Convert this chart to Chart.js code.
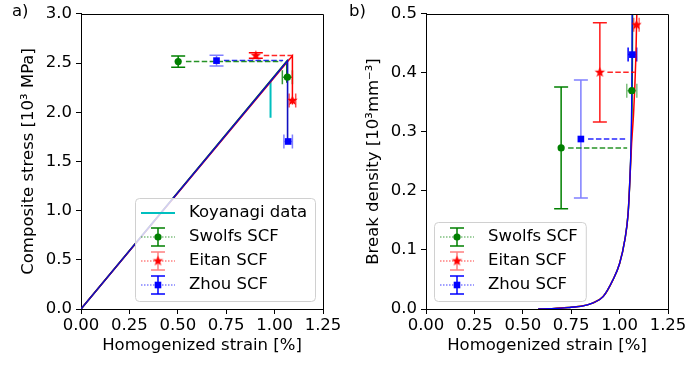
<!DOCTYPE html>
<html>
<head>
<meta charset="utf-8">
<script src="https://cdn.jsdelivr.net/npm/chart.js@4.4.0/dist/chart.umd.min.js"></script>
<style>
  body { margin: 0; background: #fff; }
  #wrap { position: relative; width: 689px; height: 368px; }
  canvas { position: absolute; top: 0; }
</style>
</head>
<body>
<div id="wrap">
  <canvas id="stress" width="345" height="368" style="left:0"></canvas>
  <canvas id="density" width="344" height="368" style="left:345px"></canvas>
</div>
<script>
// ---- a) composite stress vs homogenized strain ----
const koyanagiStrain = [0.979, 0.979];
const koyanagiStress = [2.316, 1.945];

const swolfsCurveStrain = [0, 1.063, 1.063];
const swolfsCurveStress = [0, 2.52, 2.30];
const eitanCurveStrain = [0, 1.092, 1.092];
const eitanCurveStress = [0, 2.575, 2.08];
const zhouCurveStrain = [0, 1.067, 1.067];
const zhouCurveStress = [0, 2.525, 1.70];

// measured points: first with stress scatter, second with strain scatter
const swolfsStrain = [0.502, 1.066];
const swolfsStress = [2.515, 2.357];
const swolfsStrainErr = [0, 0.026];
const swolfsStressErr = [0.058, 0];
const eitanStrain = [0.903, 1.092];
const eitanStress = [2.576, 2.12];
const eitanStrainErr = [0, 0.017];
const eitanStressErr = [0.028, 0];
const zhouStrain = [0.70, 1.07];
const zhouStress = [2.525, 1.703];
const zhouStrainErr = [0, 0.022];
const zhouStressErr = [0.055, 0];

// dashed guides from the scattered peak to the curve
const swolfsGuideStrain = [0.542, 1.035];
const eitanGuideStrain = [0.944, 1.095];
const zhouGuideStrain = [0.738, 1.044];

// ---- b) break density vs homogenized strain ----
const swolfsDensStrain = [0.58, 0.65, 0.70, 0.75, 0.80, 0.86, 0.915, 0.965, 1.0, 1.027, 1.044, 1.053, 1.06, 1.064, 1.066, 1.067];
const swolfsDensity = [0, 0.0006, 0.0015, 0.003, 0.0045, 0.010, 0.021, 0.049, 0.077, 0.117, 0.162, 0.218, 0.28, 0.34, 0.42, 0.52];
const eitanDensStrain = [0.58, 0.65, 0.70, 0.75, 0.80, 0.86, 0.915, 0.965, 1.0, 1.027, 1.044, 1.053, 1.062, 1.072, 1.079, 1.085, 1.09];
const eitanDensity = [0, 0.0006, 0.0015, 0.003, 0.0045, 0.010, 0.021, 0.049, 0.077, 0.117, 0.162, 0.218, 0.28, 0.33, 0.38, 0.44, 0.52];
const zhouDensStrain = [0.58, 0.65, 0.70, 0.75, 0.80, 0.86, 0.915, 0.965, 1.0, 1.027, 1.044, 1.053, 1.059, 1.062, 1.064, 1.065];
const zhouDensity = [0, 0.0006, 0.0015, 0.003, 0.0045, 0.010, 0.021, 0.049, 0.077, 0.117, 0.162, 0.218, 0.28, 0.34, 0.42, 0.52];

const swolfsBStrain = [0.698, 1.063];
const swolfsBDens = [0.273, 0.370];
const swolfsBStrainErr = [0, 0.026];
const swolfsBDensErr = [0.103, 0];
const eitanBStrain = [0.898, 1.087];
const eitanBDens = [0.401, 0.4815];
const eitanBStrainErr = [0, 0.014];
const eitanBDensErr = [0.084, 0];
const zhouBStrain = [0.80, 1.066];
const zhouBDens = [0.288, 0.431];
const zhouBStrainErr = [0, 0.022];
const zhouBDensErr = [0.10, 0];

const swolfsBGuide = [0.734, 1.039];
const eitanBGuide = [0.937, 1.078];
const zhouBGuide = [0.837, 1.039];

const GREEN = '#008000', RED = '#ff0000', BLUE = '#0000ff', CYAN = '#00bfbf';
const FONT_FAMILY = "'DejaVu Sans', sans-serif";
const FONT_SIZE = 16.5;

Chart.defaults.font.family = FONT_FAMILY;
Chart.defaults.font.size = FONT_SIZE;
Chart.defaults.color = '#000';

function pts(xs, ys) {
  return xs.map((x, i) => ({ x: x, y: ys[i] }));
}

function rgba(hex, a) {
  const n = parseInt(hex.slice(1), 16);
  return `rgba(${n >> 16},${(n >> 8) & 255},${n & 255},${a})`;
}

// filled five-point star, used as a point style
function starImage(color, r) {
  const s = Math.ceil(r * 2 + 2);
  const c = document.createElement('canvas');
  c.width = c.height = s;
  const g = c.getContext('2d');
  g.fillStyle = color;
  g.beginPath();
  for (let k = 0; k < 10; k++) {
    const rad = k % 2 ? r * 0.42 : r;
    const ang = -Math.PI / 2 + k * Math.PI / 5;
    g.lineTo(s / 2 + rad * Math.cos(ang), s / 2 + rad * Math.sin(ang));
  }
  g.closePath();
  g.fill();
  return c;
}
const redStar = starImage(RED, 5.5);

function drawMarker(ctx, kind, color, x, y) {
  ctx.fillStyle = color;
  if (kind === 'circle') {
    ctx.beginPath();
    ctx.arc(x, y, 3.6, 0, Math.PI * 2);
    ctx.fill();
  } else if (kind === 'rect') {
    ctx.fillRect(x - 3.3, y - 3.3, 6.6, 6.6);
  } else {
    ctx.drawImage(redStar, x - redStar.width / 2, y - redStar.height / 2);
  }
}

function drawBar(ctx, x1, y1, x2, y2, capHoriz, cap) {
  ctx.beginPath();
  ctx.moveTo(x1, y1);
  ctx.lineTo(x2, y2);
  if (capHoriz) {
    ctx.moveTo(x1 - cap, y1); ctx.lineTo(x1 + cap, y1);
    ctx.moveTo(x2 - cap, y2); ctx.lineTo(x2 + cap, y2);
  } else {
    ctx.moveTo(x1, y1 - cap); ctx.lineTo(x1, y1 + cap);
    ctx.moveTo(x2, y2 - cap); ctx.lineTo(x2, y2 + cap);
  }
  ctx.stroke();
}

const panelPlugin = {
  id: 'panel',
  beforeDatasetsDraw(chart, args, opts) {
    const { ctx } = chart;
    const xs = chart.scales.x, ys = chart.scales.y;
    ctx.save();
    ctx.lineWidth = 1.5;
    opts.errorBars.forEach(eb => {
      eb.x.forEach((xv, i) => {
        ctx.strokeStyle = rgba(eb.color, eb.alpha[i]);
        if (eb.yerr[i] > 0) {
          const px = xs.getPixelForValue(xv);
          drawBar(ctx, px, ys.getPixelForValue(eb.y[i] + eb.yerr[i]), px, ys.getPixelForValue(eb.y[i] - eb.yerr[i]), true, 7);
        }
        if (eb.xerr[i] > 0) {
          const py = ys.getPixelForValue(eb.y[i]);
          drawBar(ctx, xs.getPixelForValue(xv - eb.xerr[i]), py, xs.getPixelForValue(xv + eb.xerr[i]), py, false, 7);
        }
      });
    });
    ctx.restore();
  },
  afterDraw(chart, args, opts) {
    const { ctx, chartArea: a } = chart;
    ctx.save();
    // top and right spines
    ctx.strokeStyle = '#000';
    ctx.lineWidth = 1;
    ctx.beginPath();
    ctx.moveTo(Math.round(a.left) + 0.5, Math.round(a.top) + 0.5);
    ctx.lineTo(Math.round(a.right) + 0.5, Math.round(a.top) + 0.5);
    ctx.lineTo(Math.round(a.right) + 0.5, Math.round(a.bottom) + 0.5);
    ctx.stroke();

    // panel letter
    ctx.font = `${FONT_SIZE}px ${FONT_FAMILY}`;
    ctx.fillStyle = '#000';
    ctx.textBaseline = 'middle';
    ctx.textAlign = 'left';
    ctx.fillText(opts.letter, opts.letterX, 12);

    // legend
    const items = opts.legend;
    const tw = Math.max(...items.map(it => ctx.measureText(it.label).width));
    const w = 54 + tw + 8, rowH = 24, h = items.length * rowH + 7;
    const x0 = opts.legendCorner === 'right' ? a.right - 8 - w : a.left + 8;
    const y0 = a.bottom - 8 - h;
    ctx.beginPath();
    ctx.roundRect(x0 + 0.5, y0 + 0.5, w, h, 4);
    ctx.fillStyle = 'rgba(255,255,255,0.8)';
    ctx.fill();
    ctx.strokeStyle = '#d0d0d0';
    ctx.stroke();
    items.forEach((it, i) => {
      const cy = y0 + 15 + i * rowH;
      const cx = x0 + 23;
      if (it.kind === 'line') {
        ctx.strokeStyle = it.color;
        ctx.lineWidth = 2;
        ctx.beginPath();
        ctx.moveTo(cx - 17, cy); ctx.lineTo(cx + 17, cy);
        ctx.stroke();
      } else {
        ctx.lineWidth = 1.5;
        ctx.strokeStyle = rgba(it.color, 0.5);
        ctx.setLineDash([1.5, 1.5]);
        ctx.beginPath();
        ctx.moveTo(cx - 17, cy); ctx.lineTo(cx + 17, cy);
        ctx.stroke();
        ctx.setLineDash([]);
        ctx.strokeStyle = rgba(it.color, it.alpha);
        drawBar(ctx, cx, cy - 9, cx, cy + 9, true, 7);
        drawMarker(ctx, it.marker, it.color, cx, cy);
      }
      ctx.fillStyle = '#000';
      ctx.fillText(it.label, x0 + 54, cy);
    });
    ctx.restore();
  }
};

function curve(xs, ys, color, order, width, smooth) {
  return {
    data: pts(xs, ys), showLine: true, borderColor: color, borderWidth: width || 1.5,
    pointRadius: 0, order: order, tension: 0,
    cubicInterpolationMode: smooth ? 'monotone' : 'default'
  };
}

function guide(xs, y, color) {
  return {
    data: pts(xs, [y, y]), showLine: true, borderColor: rgba(color, 0.85), borderWidth: 1.5,
    borderDash: [5.5, 2.4], pointRadius: 0, order: 1
  };
}

function markers(xs, ys, color, style, r) {
  return {
    data: pts(xs, ys), showLine: false, pointStyle: style, pointRadius: r,
    backgroundColor: color, borderColor: color, borderWidth: 0, order: 0
  };
}

function axes(yMax, yStep, yTitle) {
  return {
    x: {
      type: 'linear', min: 0, max: 1.25,
      afterFit: s => { s.height = 59; },
      ticks: { stepSize: 0.25, padding: 2, maxRotation: 0, autoSkip: false, callback: v => v.toFixed(2) },
      grid: { drawOnChartArea: false, tickLength: 5, color: '#000' },
      border: { color: '#000' },
      title: { display: true, text: 'Homogenized strain [%]', padding: { top: 0, bottom: 12 } }
    },
    y: {
      type: 'linear', min: 0, max: yMax,
      afterFit: s => { s.width = 81; },
      ticks: { stepSize: yStep, padding: 4, callback: v => v.toFixed(1) },
      grid: { drawOnChartArea: false, tickLength: 5, color: '#000' },
      border: { color: '#000' },
      title: { display: true, text: yTitle, padding: { top: 19, bottom: 0 } }
    }
  };
}

const baseOptions = {
  responsive: false,
  animation: false,
  events: [],
  plugins: { legend: { display: false }, tooltip: { enabled: false } }
};

new Chart(document.getElementById('stress'), {
  type: 'scatter',
  plugins: [panelPlugin],
  data: {
    datasets: [
      curve(koyanagiStrain, koyanagiStress, CYAN, 6, 2),
      curve(swolfsCurveStrain, swolfsCurveStress, GREEN, 5),
      curve(eitanCurveStrain, eitanCurveStress, RED, 4),
      curve(zhouCurveStrain, zhouCurveStress, '#1010c0', 3, 1.6),
      guide(swolfsGuideStrain, swolfsStress[0], GREEN),
      guide(eitanGuideStrain, eitanStress[0], RED),
      guide(zhouGuideStrain, zhouStress[0], BLUE),
      markers(swolfsStrain, swolfsStress, GREEN, 'circle', 3.6),
      markers(eitanStrain, eitanStress, RED, redStar, 5),
      markers(zhouStrain, zhouStress, BLUE, 'rect', 4.7)
    ]
  },
  options: Object.assign({}, baseOptions, {
    layout: { padding: { left: 0, top: 12, right: 22, bottom: 0 } },
    scales: axes(3, 0.5, 'Composite stress [10³ MPa]'),
    plugins: Object.assign({}, baseOptions.plugins, {
      panel: {
        letter: 'a)', letterX: 12, legendCorner: 'right',
        errorBars: [
          { x: swolfsStrain, y: swolfsStress, xerr: swolfsStrainErr, yerr: swolfsStressErr, color: GREEN, alpha: [1, 0.8] },
          { x: eitanStrain, y: eitanStress, xerr: eitanStrainErr, yerr: eitanStressErr, color: RED, alpha: [1, 0.7] },
          { x: zhouStrain, y: zhouStress, xerr: zhouStrainErr, yerr: zhouStressErr, color: BLUE, alpha: [0.5, 0.5] }
        ],
        legend: [
          { label: 'Koyanagi data', kind: 'line', color: CYAN },
          { label: 'Swolfs SCF', kind: 'err', color: GREEN, marker: 'circle', alpha: 1 },
          { label: 'Eitan SCF', kind: 'err', color: RED, marker: 'star', alpha: 0.5 },
          { label: 'Zhou SCF', kind: 'err', color: BLUE, marker: 'rect', alpha: 1 }
        ]
      }
    })
  })
});

new Chart(document.getElementById('density'), {
  type: 'scatter',
  plugins: [panelPlugin],
  data: {
    datasets: [
      curve(swolfsDensStrain, swolfsDensity, GREEN, 5, 1.5, true),
      curve(eitanDensStrain, eitanDensity, RED, 4, 1.5, true),
      curve(zhouDensStrain, zhouDensity, BLUE, 3, 1.3, true),
      guide(swolfsBGuide, swolfsBDens[0], GREEN),
      guide(eitanBGuide, eitanBDens[0], RED),
      guide(zhouBGuide, zhouBDens[0], BLUE),
      markers(swolfsBStrain, swolfsBDens, GREEN, 'circle', 3.6),
      markers(eitanBStrain, eitanBDens, RED, redStar, 5),
      markers(zhouBStrain, zhouBDens, BLUE, 'rect', 4.7)
    ]
  },
  options: Object.assign({}, baseOptions, {
    layout: { padding: { left: 0, top: 12, right: 21, bottom: 0 } },
    scales: axes(0.5, 0.1, 'Break density [10³mm⁻³]'),
    plugins: Object.assign({}, baseOptions.plugins, {
      panel: {
        letter: 'b)', letterX: 4, legendCorner: 'left',
        errorBars: [
          { x: swolfsBStrain, y: swolfsBDens, xerr: swolfsBStrainErr, yerr: swolfsBDensErr, color: GREEN, alpha: [1, 0.5] },
          { x: eitanBStrain, y: eitanBDens, xerr: eitanBStrainErr, yerr: eitanBDensErr, color: RED, alpha: [0.9, 0.6] },
          { x: zhouBStrain, y: zhouBDens, xerr: zhouBStrainErr, yerr: zhouBDensErr, color: BLUE, alpha: [0.5, 1] }
        ],
        legend: [
          { label: 'Swolfs SCF', kind: 'err', color: GREEN, marker: 'circle', alpha: 1 },
          { label: 'Eitan SCF', kind: 'err', color: RED, marker: 'star', alpha: 0.5 },
          { label: 'Zhou SCF', kind: 'err', color: BLUE, marker: 'rect', alpha: 1 }
        ]
      }
    })
  })
});
</script>
</body>
</html>
